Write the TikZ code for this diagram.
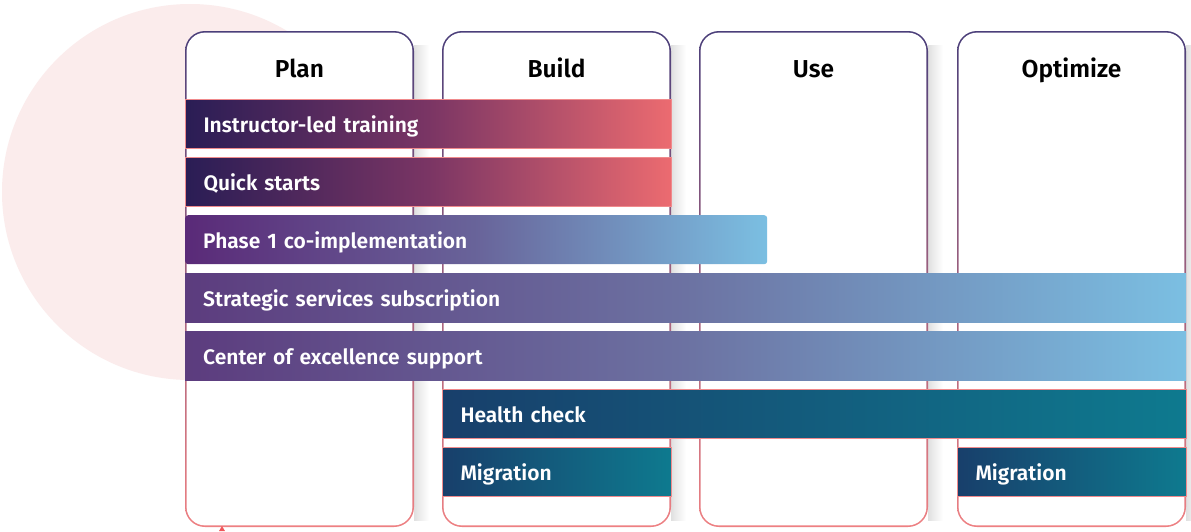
\documentclass[tikz,border=0pt]{standalone}
\usepackage{fontspec}
\setmainfont{Fira Sans}[BoldFont={Fira Sans SemiBold}]
\usetikzlibrary{positioning}
\definecolor{circ}{HTML}{FBECEC}
\definecolor{colTop}{HTML}{4B3F7A}
\definecolor{colBot}{HTML}{EE8082}
\definecolor{pinkline}{HTML}{F08A8C}
\definecolor{navy}{HTML}{2A1D55}
\definecolor{plum}{HTML}{7A3564}
\definecolor{salmon}{HTML}{EC6B70}
\definecolor{purp}{HTML}{5A2A78}
\definecolor{purp2}{HTML}{5C3C7E}
\definecolor{midblue}{HTML}{6C72A2}
\definecolor{lblue}{HTML}{7BBFE2}
\definecolor{dteal}{HTML}{183F6B}
\definecolor{teal}{HTML}{0E7A8F}
\tikzset{
  x=1pt, y=-1pt,
  colframe/.style={rounded corners=20pt, top color=colTop, bottom color=colBot, shading angle=0},
  colinner/.style={rounded corners=18.5pt, fill=white},
  head/.style={anchor=base, font=\bfseries\fontsize{24.5}{28}\selectfont, text=black},
  bar/.style={anchor=north west, minimum height=49pt, inner xsep=18pt, align=left,
     text height=18pt, text depth=1pt,
     font=\bfseries\fontsize{21}{24}\selectfont, text=white},
  redbar/.style={bar, left color=navy, right color=salmon, middle color=plum, draw=pinkline, line width=1pt},
  bluebar/.style={bar, left color=purp2, right color=lblue, middle color=midblue},
  tealbar/.style={bar, left color=dteal, right color=teal, draw=pinkline, line width=1pt},
}
\begin{document}
\begin{tikzpicture}
\useasboundingbox (0,0) rectangle (1191,531);
\fill[white] (0,0) rectangle (1191,531);
% background circle
\fill[circ] (190,192) circle (188);
% column shadows
\foreach \x in {414,671,928,1186}{
  \shade[left color=black!12, right color=white] (\x,45) rectangle (\x+15,520);
}
% columns
\foreach \x/\n/\t in {185/plan/Plan,442/build/Build,699/use/Use,957/opt/Optimize}{
  \path[colframe] (\x,31) rectangle (\x+229,527);
  \path[colinner] (\x+1.6,32.6) rectangle (\x+229-1.6,527-1.6);
  \node[head] (\n) at (\x+114.5,77) {\t};
}
% bars
\node[redbar, minimum width=486pt, text width=450pt] (ilt) at (185,99) {Instructor-led training};
\node[redbar, minimum width=486pt, text width=450pt] (qs) at (185,157) {Quick starts};
\node[bluebar, left color=purp, right color=lblue, middle color=midblue!80!purp, rounded corners=3pt, minimum width=582pt, text width=546pt] (p1) at (185,215) {Phase 1 co-implementation};
\node[bluebar, minimum width=1001pt, text width=965pt] (sss) at (185,273) {Strategic services subscription};
\node[bluebar, minimum width=1001pt, text width=965pt] (coe) at (185,331) {Center of excellence support};
\node[tealbar, minimum width=744pt, text width=708pt] (hc) at (442,389) {Health check};
\node[tealbar, minimum width=229pt, text width=193pt] (mig1) at (442,447) {Migration};
\node[tealbar, minimum width=229pt, text width=193pt] (mig2) at (957,447) {Migration};
% small marker
\fill[salmon!80!red] (219,531) -- (222,526) -- (225,531) -- cycle;
\end{tikzpicture}
\end{document}
